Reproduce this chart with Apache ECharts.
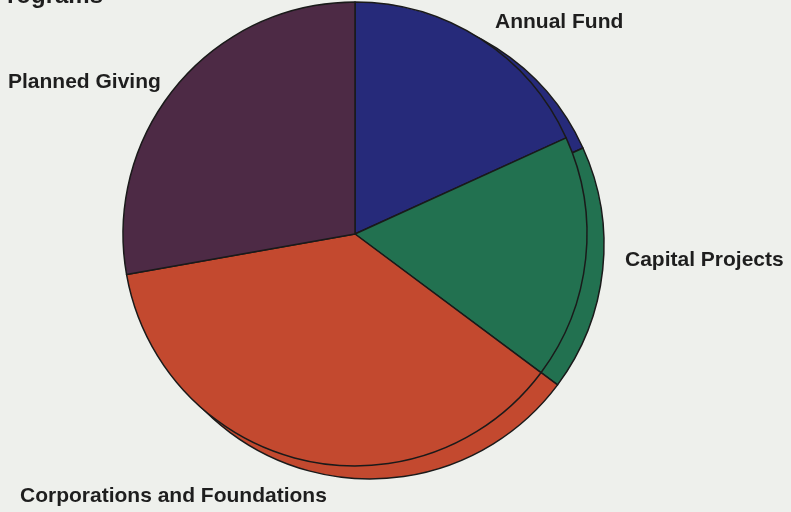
<!DOCTYPE html>
<html>
<head>
<meta charset="utf-8">
<script src="https://cdn.jsdelivr.net/npm/echarts@6/dist/echarts.min.js"></script>
<style>
html,body{margin:0;padding:0;background:#eef0ec;}
#chart{width:791px;height:512px;}
</style>
</head>
<body>
<div id="chart"></div>
<script>
var categories = ['Annual Fund', 'Capital Projects', 'Corporations and Foundations', 'Planned Giving'];
var values = [18.2, 17.0, 37.0, 27.8];
var colors = ['#262a7a', '#227150', '#c3492f', '#4d2a45'];
var titleText = 'Programs';
var labelPos = [[495, 22], [625, 260], [20, 496], [8, 82]];

var chart = echarts.init(document.getElementById('chart'));
var data = categories.map(function (c, i) {
  return { name: c, value: values[i], itemStyle: { color: colors[i] } };
});
var labelFont = { fontFamily: 'Liberation Sans, Arial, sans-serif', fontWeight: 'bold', fontSize: 21, fill: '#1e1e1e' };
var graphics = [{
  type: 'text', left: -9, top: -16, z: 10,
  style: { text: titleText, fontFamily: 'Liberation Sans, Arial, sans-serif', fontWeight: 'bold', fontSize: 24, fill: '#1e1e1e' }
}];
categories.forEach(function (c, i) {
  graphics.push({
    type: 'text', x: labelPos[i][0], y: labelPos[i][1], z: 10,
    style: Object.assign({ text: c, verticalAlign: 'middle', align: 'left' }, labelFont)
  });
});
chart.setOption({
  backgroundColor: '#eef0ec',
  animation: false,
  graphic: graphics,
  series: [
    {
      type: 'pie', z: 1,
      center: [370, 245], radius: 234,
      startAngle: 90, clockwise: true,
      label: { show: false }, labelLine: { show: false },
      itemStyle: { borderColor: '#1a1a1a', borderWidth: 1.5 },
      emphasis: { disabled: true },
      data: data
    },
    {
      type: 'pie', z: 2,
      center: [355, 234], radius: 232,
      startAngle: 90, clockwise: true,
      label: { show: false }, labelLine: { show: false },
      itemStyle: { borderColor: '#1a1a1a', borderWidth: 1.5 },
      emphasis: { disabled: true },
      data: data
    }
  ]
});
</script>
</body>
</html>
